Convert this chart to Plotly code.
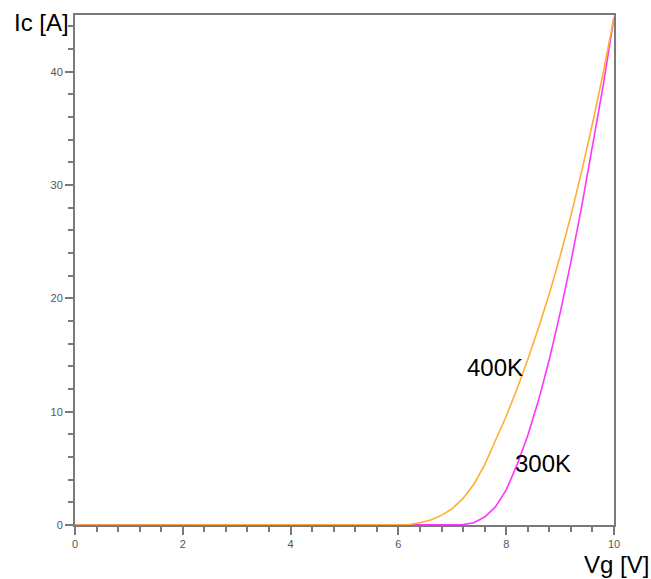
import plotly.graph_objects as go

# Gate voltage sweep [V] and collector current [A] at 400 K
vg_400 = [0, 1, 2, 3, 4, 5, 6.0, 6.2, 6.4, 6.6, 6.8, 7.0, 7.2, 7.4, 7.6, 7.8,
          8.0, 8.2, 8.4, 8.6, 8.8, 9.0, 9.2, 9.4, 9.6, 9.8, 10.0]
ic_400 = [0, 0, 0, 0, 0, 0, 0.0, 0.05, 0.2, 0.45, 0.85, 1.45, 2.35, 3.6, 5.3, 7.4,
          9.6, 12.0, 14.6, 17.4, 20.4, 23.7, 27.3, 31.2, 35.4, 39.9, 44.8]

# Gate voltage sweep [V] and collector current [A] at 300 K
vg_300 = [0, 1, 2, 3, 4, 5, 6, 7.0, 7.2, 7.4, 7.6, 7.8, 8.0, 8.2, 8.4, 8.6,
          8.8, 9.0, 9.2, 9.4, 9.6, 9.8, 10.0]
ic_300 = [0, 0, 0, 0, 0, 0, 0, 0.0, 0.03, 0.2, 0.7, 1.6, 3.1, 5.3, 7.9, 11.0,
          14.6, 18.7, 23.2, 28.1, 33.3, 38.8, 44.8]

x_ticks = [0, 2, 4, 6, 8, 10]
y_ticks = [0, 10, 20, 30, 40]

AXIS_GREY = "#7a7a7a"
LABEL_GREY = "#555555"
FONT = "Liberation Sans, Arial, sans-serif"

fig = go.Figure()
fig.add_trace(go.Scatter(x=vg_300, y=ic_300, mode="lines", name="300K",
                         line=dict(color="#ff33ff", width=1.6)))
fig.add_trace(go.Scatter(x=vg_400, y=ic_400, mode="lines", name="400K",
                         line=dict(color="#ffae33", width=1.6)))

axis_common = dict(
    showgrid=False, zeroline=False, showline=True, mirror=True,
    linecolor=AXIS_GREY, linewidth=2,
    ticks="outside", ticklen=8, tickwidth=1.5, tickcolor=AXIS_GREY,
    tickfont=dict(family=FONT, size=11, color=LABEL_GREY),
)

fig.update_xaxes(range=[0, 10], tickvals=x_ticks, ticktext=[str(v) for v in x_ticks],
                 minor=dict(dtick=0.4, tick0=0, ticks="outside", ticklen=5,
                            tickwidth=1.5, tickcolor=AXIS_GREY),
                 **axis_common)
fig.update_yaxes(range=[0, 45], tickvals=y_ticks, ticktext=[str(v) for v in y_ticks],
                 minor=dict(dtick=2, tick0=0, ticks="outside", ticklen=5,
                            tickwidth=1.5, tickcolor=AXIS_GREY),
                 **axis_common)

text_font = dict(family=FONT, size=24, color="black")
fig.add_annotation(text="Ic [A]", xref="paper", yref="paper", x=-0.008, y=0.986,
                   xanchor="right", yanchor="middle", showarrow=False, font=text_font)
fig.add_annotation(text="Vg [V]", xref="paper", yref="paper", x=0.94, y=-0.078,
                   xanchor="left", yanchor="middle", showarrow=False, font=text_font)
fig.add_annotation(text="400K", x=7.24, y=13.9, xanchor="left", yanchor="middle",
                   showarrow=False, font=text_font)
fig.add_annotation(text="300K", x=8.13, y=5.4, xanchor="left", yanchor="middle",
                   showarrow=False, font=text_font)

fig.update_layout(
    width=651, height=579,
    margin=dict(l=75, r=37, t=15, b=54),
    paper_bgcolor="white", plot_bgcolor="white",
    showlegend=False,
)

fig.write_html("out.html")
